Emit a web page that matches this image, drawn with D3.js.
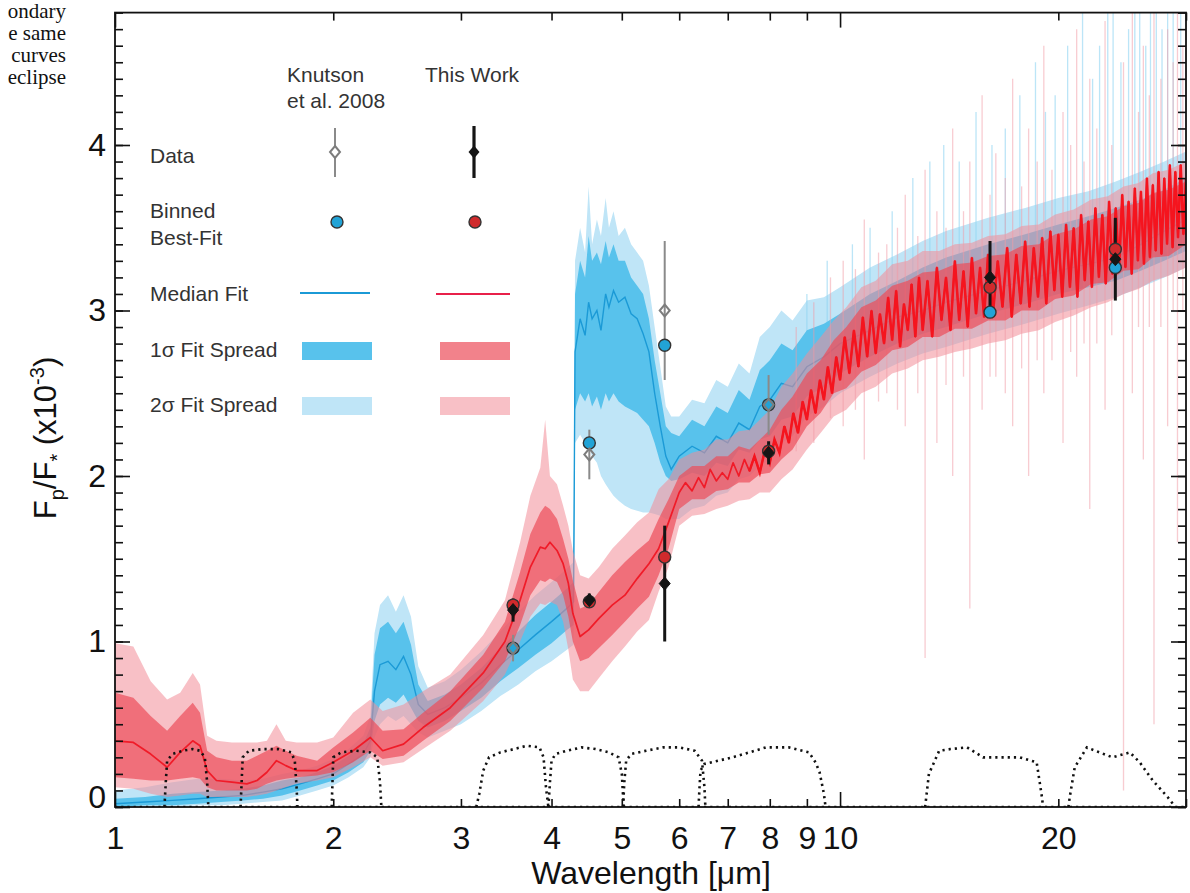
<!DOCTYPE html>
<html><head><meta charset="utf-8">
<script src="https://cdn.jsdelivr.net/npm/d3@7"></script>
<style>body{margin:0;background:#fff}svg{display:block}</style>
</head><body><svg id="c" width="1190" height="893"></svg>
<script>
// ---------------- DATA ----------------
// Knutson et al. 2008 model (blue)
const blueWl  = [1.00,1.10,1.20,1.30,1.40,1.50,1.60,1.70,1.80,1.90,
                 2.00,2.10,2.20,2.25,2.28,2.32,2.38,2.44,2.50,2.56,
                 2.62,2.70,2.85,3.00,3.20,3.40,3.60,3.80,4.00,4.20,
                 4.29,4.31,4.38,4.45,4.50,4.55,4.62,4.68,4.75,4.80,
                 4.87,4.95,5.05,5.15,5.25,5.35,5.45,5.55,5.65,5.75,
                 5.85,6.00,6.25,6.50,6.75,7.00,7.25,7.50,7.75,8.00,
                 8.30,8.60,9.00,9.50,10.0,11.0,12.0,13.0,14.0,16.0,
                 18.0,20.0,22.0,24.0,26.0,28.0,30.0];
const blueMed = [0.02,0.03,0.04,0.05,0.06,0.07,0.09,0.11,0.14,0.17,
                 0.20,0.26,0.32,0.40,0.70,0.86,0.88,0.83,0.91,0.80,
                 0.62,0.56,0.60,0.66,0.75,0.86,0.95,1.04,1.12,1.20,
                 1.24,2.75,2.95,2.85,3.05,2.95,3.00,2.88,3.10,3.02,
                 3.12,3.05,3.08,2.98,2.95,2.86,2.75,2.50,2.30,2.12,
                 2.04,2.12,2.18,2.14,2.24,2.20,2.32,2.28,2.42,2.46,
                 2.56,2.54,2.66,2.72,2.80,2.88,2.96,3.00,3.05,3.12,
                 3.18,3.24,3.28,3.32,3.40,3.48,3.55];
const blue1Lo = [0.00,0.01,0.01,0.02,0.03,0.04,0.05,0.07,0.10,0.13,
                 0.16,0.21,0.27,0.34,0.52,0.62,0.66,0.63,0.68,0.60,
                 0.52,0.48,0.52,0.58,0.66,0.76,0.84,0.92,0.99,1.07,
                 1.10,2.40,2.50,2.45,2.50,2.42,2.48,2.40,2.50,2.45,
                 2.50,2.45,2.42,2.40,2.38,2.34,2.30,2.20,2.08,2.00,
                 1.97,1.98,2.02,2.00,2.08,2.06,2.16,2.14,2.22,2.24,
                 2.34,2.36,2.48,2.54,2.62,2.72,2.80,2.86,2.90,2.98,
                 3.04,3.10,3.14,3.18,3.24,3.30,3.36];
const blue1Hi = [0.05,0.06,0.08,0.09,0.10,0.11,0.13,0.16,0.18,0.21,
                 0.25,0.31,0.38,0.48,0.92,1.08,1.12,1.05,1.12,0.98,
                 0.74,0.64,0.68,0.74,0.84,0.96,1.06,1.16,1.24,1.32,
                 1.36,3.10,3.30,3.20,3.45,3.30,3.35,3.28,3.42,3.32,
                 3.40,3.30,3.30,3.20,3.15,3.10,2.95,2.70,2.50,2.30,
                 2.26,2.24,2.34,2.30,2.42,2.38,2.52,2.46,2.64,2.70,
                 2.80,2.76,2.88,2.92,2.98,3.10,3.18,3.26,3.32,3.40,
                 3.46,3.52,3.57,3.62,3.67,3.73,3.80];
const blue2Lo = [0.00,0.00,0.00,0.01,0.01,0.02,0.03,0.04,0.07,0.10,
                 0.13,0.18,0.24,0.30,0.42,0.50,0.55,0.52,0.55,0.50,
                 0.45,0.42,0.46,0.50,0.58,0.67,0.74,0.82,0.88,0.95,
                 0.98,2.20,2.25,2.20,2.18,2.12,2.08,2.00,1.95,1.92,
                 1.88,1.85,1.82,1.80,1.79,1.78,1.78,1.77,1.76,1.74,
                 1.74,1.74,1.80,1.82,1.88,1.90,1.98,2.00,2.06,2.10,
                 2.20,2.24,2.36,2.42,2.50,2.60,2.68,2.74,2.78,2.86,
                 2.92,2.98,3.03,3.08,3.14,3.20,3.26];
const blue2Hi = [0.10,0.12,0.15,0.17,0.17,0.16,0.17,0.20,0.22,0.25,
                 0.29,0.35,0.43,0.55,1.05,1.22,1.28,1.18,1.28,1.15,
                 0.85,0.72,0.76,0.83,0.94,1.06,1.18,1.28,1.36,1.44,
                 1.48,3.30,3.50,3.35,3.75,3.40,3.55,3.45,3.68,3.50,
                 3.60,3.45,3.50,3.40,3.35,3.30,3.15,2.90,2.66,2.42,
                 2.36,2.36,2.46,2.44,2.58,2.54,2.68,2.62,2.84,2.90,
                 3.00,2.94,3.06,3.08,3.14,3.26,3.34,3.42,3.48,3.56,
                 3.62,3.68,3.72,3.78,3.84,3.90,3.96];

// This work model (red): spread bands
const redBandWl = [1.00,1.06,1.12,1.18,1.23,1.28,1.31,1.34,1.38,1.45,
                   1.52,1.57,1.62,1.67,1.72,1.78,1.90,2.00,2.13,2.25,
                   2.34,2.50,2.66,2.90,3.22,3.45,3.62,3.74,3.86,3.92,
                   3.98,4.07,4.15,4.22,4.28,4.38,4.50,4.65,4.85,5.05,
                   5.25,5.45,5.62,5.80,
                   6.00,6.25,6.50,6.75,7.00,7.25,7.50,7.75,8.00,8.30,
                   8.60,9.00,9.40,9.80,10.2,10.7,11.2,11.8,12.4,13.0,
                   13.7,14.4,15.2,16.0,16.9,17.8,18.8,19.8,21.0,22.2,
                   23.4,24.6,25.8,27.0,28.4,30.0];
const red1Lo = [0.18,0.17,0.16,0.16,0.17,0.18,0.17,0.12,0.10,0.10,
                0.10,0.11,0.14,0.16,0.17,0.18,0.19,0.21,0.27,0.34,
                0.29,0.31,0.40,0.52,0.72,0.88,1.10,1.28,1.37,1.36,
                1.38,1.36,1.28,1.15,1.00,0.88,0.90,0.96,1.04,1.12,
                1.20,1.27,1.40,1.56,
                1.80,1.86,1.86,1.91,1.92,1.96,1.96,2.01,2.02,2.10,
                2.16,2.30,2.38,2.50,2.53,2.63,2.67,2.76,2.78,2.84,
                2.84,2.89,2.89,2.94,2.94,3.00,3.00,3.07,3.09,3.16,
                3.17,3.24,3.25,3.32,3.33,3.40];
const red1Hi = [0.69,0.66,0.55,0.46,0.55,0.63,0.57,0.34,0.30,0.28,
                0.28,0.31,0.34,0.37,0.34,0.31,0.28,0.36,0.45,0.54,
                0.46,0.47,0.57,0.70,0.92,1.12,1.42,1.65,1.78,1.82,
                1.80,1.74,1.62,1.50,1.37,1.20,1.22,1.30,1.40,1.48,
                1.55,1.61,1.74,1.86,
                2.00,2.06,2.06,2.12,2.12,2.18,2.16,2.22,2.28,2.40,
                2.48,2.62,2.70,2.82,2.90,3.02,3.06,3.15,3.18,3.23,
                3.24,3.28,3.29,3.33,3.34,3.39,3.40,3.46,3.49,3.55,
                3.57,3.63,3.65,3.71,3.73,3.78];
const red2Lo = [0.12,0.11,0.08,0.06,0.07,0.08,0.08,0.06,0.06,0.06,
                0.06,0.07,0.08,0.10,0.12,0.14,0.16,0.18,0.24,0.30,
                0.25,0.27,0.35,0.46,0.64,0.80,1.00,1.15,1.23,1.22,
                1.24,1.22,1.12,0.95,0.77,0.70,0.70,0.78,0.88,0.97,
                1.06,1.13,1.30,1.45,
                1.70,1.76,1.77,1.80,1.82,1.85,1.86,1.90,1.90,1.98,
                2.04,2.16,2.26,2.36,2.40,2.50,2.54,2.62,2.65,2.70,
                2.72,2.75,2.77,2.80,2.82,2.86,2.88,2.93,2.97,3.02,
                3.05,3.10,3.13,3.18,3.21,3.26];
const red2Hi = [0.99,0.97,0.76,0.65,0.69,0.81,0.74,0.43,0.40,0.39,
                0.39,0.39,0.40,0.50,0.40,0.39,0.39,0.42,0.57,0.65,
                0.58,0.62,0.70,0.80,1.04,1.25,1.60,1.88,2.05,2.34,
                2.00,1.95,1.82,1.70,1.55,1.40,1.38,1.45,1.56,1.64,
                1.72,1.78,1.92,1.98,
                2.10,2.14,2.16,2.22,2.22,2.27,2.28,2.34,2.40,2.54,
                2.62,2.74,2.84,2.94,3.02,3.14,3.18,3.28,3.30,3.36,
                3.36,3.40,3.41,3.45,3.46,3.51,3.52,3.58,3.61,3.67,
                3.69,3.75,3.77,3.83,3.85,3.90];

// red median fit
const redMedWl = [1.00,1.06,1.12,1.18,1.23,1.28,1.31,1.34,1.38,1.45,
                  1.52,1.57,1.62,1.67,1.72,1.78,1.90,2.00,2.13,2.25,
                  2.34,2.50,2.66,2.90,3.22,3.45,3.62,3.74,3.86,3.92,
                  3.98,4.07,4.15,4.22,4.28,4.38,4.50,4.65,4.85,5.05,
                  5.25,5.45,5.62,5.80,
                  6.00,6.12,6.25,6.38,6.50,6.62,6.75,6.88,7.00,7.12,
                  7.25,7.38,7.50,7.62,7.75,7.88,8.00,8.12,8.25,8.38,
                  8.50,8.62,8.75,8.88,9.00,9.12,9.25,9.38,9.50,9.62,
                  9.75,9.88,10.0,10.15,10.3,10.45,10.6,10.75,10.9,11.05,
                  11.2,11.35,11.5,11.65,11.8,11.95,12.1,12.25,12.4,12.55,
                  12.7,12.85,13.0,13.2,13.4,13.6,13.8,14.0,14.2,14.4,
                  14.6,14.8,15.0,15.2,15.4,15.6,15.8,16.0,16.25,16.5,
                  16.75,17.0,17.25,17.5,17.75,18.0,18.25,18.5,18.75,19.0,
                  19.25,19.5,19.75,20.0,20.25,20.5,20.75,21.0,21.25,21.5,
                  21.75,22.0,22.25,22.5,22.75,23.0,23.25,23.5,23.75,24.0,
                  24.25,24.5,24.75,25.0,25.25,25.5,25.75,26.0,26.25,26.5,
                  26.75,27.0,27.25,27.5,27.75,28.0,28.25,28.5,28.75,29.0,
                  29.25,29.5,29.75,30.0];
const redMed = [0.40,0.39,0.32,0.24,0.33,0.40,0.37,0.22,0.16,0.15,
                0.14,0.16,0.21,0.28,0.25,0.22,0.22,0.27,0.34,0.42,
                0.34,0.38,0.48,0.60,0.81,1.00,1.25,1.45,1.57,1.56,
                1.60,1.55,1.47,1.35,1.17,1.03,1.07,1.14,1.22,1.28,
                1.38,1.47,1.56,1.72,
                1.90,1.96,1.91,1.99,1.93,2.04,1.97,2.02,1.98,2.08,
                2.00,2.10,2.03,2.12,2.02,2.16,2.08,2.22,2.14,2.30,
                2.20,2.38,2.26,2.45,2.34,2.52,2.38,2.58,2.46,2.66,
                2.50,2.72,2.58,2.84,2.62,2.88,2.66,2.96,2.72,3.00,
                2.74,2.98,2.80,3.08,2.82,3.12,2.78,3.04,2.88,3.16,
                2.84,3.20,2.88,3.18,2.84,3.26,2.94,3.20,2.88,3.30,
                2.94,3.24,2.90,3.32,2.98,3.26,2.96,3.34,2.98,3.30,
                3.02,3.38,2.96,3.34,3.04,3.42,3.02,3.38,3.08,3.44,
                3.04,3.48,3.12,3.46,3.08,3.52,3.14,3.50,3.08,3.58,
                3.18,3.54,3.14,3.62,3.20,3.58,3.16,3.66,3.22,3.62,
                3.24,3.70,3.26,3.66,3.22,3.74,3.30,3.72,3.28,3.80,
                3.32,3.76,3.36,3.84,3.34,3.80,3.40,3.88,3.38,3.84,
                3.44,3.88,3.46,3.80];

// thin spread spikes at long wavelengths
const redSpikeWl = [8.7,9.2,9.7,10.1,10.5,10.8,11.3,11.6,12.0,12.3,12.8,13.1,13.6,14.0,14.3,14.8,15.1,15.7,16.1,16.4,16.9,17.3,17.8,18.2,18.7,19.1,19.6,20.3,20.8,21.2,21.7,22.1,22.6,23.2,23.7,24.6,25.3,25.8,26.2,26.7,27.1,27.7,28.3,28.8,29.2,29.7];
const redSpikeLo = [2.15,2.2,2.35,2.3,2.4,2.1,2.45,2.5,2.4,2.3,2.5,0.9,2.2,2.55,2.0,2.6,1.2,2.4,2.6,2.6,2.5,2.3,2.65,2.0,2.7,2.5,2.7,2.2,2.75,2.6,2.8,1.8,2.8,2.4,2.85,0.1,2.5,2.9,2.1,2.9,0.5,2.9,2.3,3.0,1.6,3.0];
const redSpikeHi = [2.9,3.05,3.2,3.3,3.25,3.55,3.35,3.4,3.5,3.7,3.45,3.85,3.6,3.5,4.1,3.6,3.9,4.3,3.7,3.95,3.8,4.4,3.75,4.1,3.9,4.6,3.85,4.2,4.0,4.7,3.9,4.4,4.1,4.75,4.0,4.5,4.8,4.2,4.6,4.3,4.8,4.4,4.7,4.5,4.8,4.6];
const blueSpikeWl = [9.0,9.6,10.4,11.0,11.8,12.6,13.3,13.9,14.6,15.4,16.2,16.9,17.7,18.6,19.2,19.8,20.6,21.6,22.3,22.8,23.4,23.8,24.4,25.0,25.5,25.9,26.4,26.8,27.3,27.8,28.3,28.8,29.5];
const blueSpikeLo = [2.7,2.7,2.8,2.9,2.95,3.0,3.05,3.1,3.1,3.2,3.2,3.2,3.25,3.3,3.3,3.3,3.35,3.4,3.4,3.4,3.4,3.4,3.45,3.5,3.5,3.5,3.5,3.5,3.55,3.5,3.55,3.6,3.6];
const blueSpikeHi = [3.1,3.3,3.4,3.5,3.6,3.8,3.9,4.0,3.9,4.2,4.0,4.1,4.3,4.5,4.2,4.3,4.6,4.8,4.4,4.6,4.8,4.8,4.5,4.7,4.8,4.8,4.6,4.8,4.8,4.7,4.8,4.8,4.8];

// photometry
const knutWl  = [3.54, 4.51, 5.73, 7.97];
const knutVal = [0.96, 2.13, 3.00, 2.43];
const knutErr = [0.08, 0.15, 0.42, 0.18];
const thisWl  = [3.54, 4.51, 5.73, 7.97, 16.1, 23.97];
const thisVal = [1.19, 1.25, 1.35, 2.14, 3.20, 3.31];
const thisErr = [0.07, 0.04, 0.35, 0.07, 0.22, 0.25];
const binWl   = [3.54, 4.51, 5.73, 7.97, 16.1, 23.97];
const blueBin = [0.96, 2.20, 2.79, 2.43, 2.99, 3.26];
const redBin  = [1.22, 1.24, 1.51, 2.15, 3.14, 3.37];

// filter transmission curves [wavelength, value]
const filtJ = [[1.17,0],[1.175,0.15],[1.18,0.28],[1.2,0.32],[1.24,0.34],[1.28,0.35],[1.31,0.34],[1.33,0.30],[1.34,0.15],[1.345,0]];
const filtH = [[1.49,0],[1.495,0.15],[1.5,0.30],[1.53,0.34],[1.6,0.35],[1.68,0.35],[1.75,0.33],[1.77,0.28],[1.78,0.12],[1.785,0]];
const filtK = [[1.99,0],[1.995,0.15],[2.0,0.30],[2.05,0.33],[2.15,0.34],[2.25,0.33],[2.3,0.30],[2.32,0.15],[2.33,0]];
const filtI1 = [[3.15,0],[3.18,0.08],[3.22,0.22],[3.28,0.30],[3.4,0.33],[3.55,0.35],[3.7,0.37],[3.85,0.36],[3.9,0.30],[3.93,0.12],[3.96,0]];
const filtI2 = [[3.96,0],[3.98,0.15],[4.0,0.28],[4.05,0.32],[4.2,0.34],[4.4,0.36],[4.6,0.35],[4.8,0.33],[4.95,0.30],[5.0,0.20],[5.03,0]];
const filtI3 = [[5.02,0],[5.04,0.15],[5.07,0.28],[5.15,0.32],[5.4,0.34],[5.7,0.36],[6.0,0.36],[6.3,0.34],[6.45,0.28],[6.5,0.12],[6.52,0]];
const filtI4 = [[6.38,0],[6.4,0.12],[6.42,0.22],[6.5,0.26],[6.8,0.28],[7.1,0.30],[7.5,0.33],[7.9,0.36],[8.5,0.36],[9.06,0.33],[9.25,0.27],[9.37,0.21],[9.5,0.08],[9.55,0]];
const filtIRS = [[13.1,0],[13.15,0.06],[13.26,0.20],[13.7,0.34],[14.2,0.35],[14.97,0.36],[15.75,0.30],[16.6,0.30],[17.7,0.30],[18.67,0.27],[18.85,0.15],[19.0,0.05],[19.05,0]];
const filtMIPS = [[20.65,0],[20.74,0.06],[21.07,0.24],[21.9,0.36],[22.8,0.33],[23.75,0.30],[25.1,0.33],[25.9,0.27],[27.0,0.16],[28.3,0.06],[29.0,0]];
const filtBase = [[1,0],[30,0]];

// ticks
const xTickLabels = [1,2,3,4,5,6,7,8,9,10,20];
const xMajor = [1,10];
const xMinor = [2,3,4,5,6,7,8,9,20,30];
const yTickLabels = [0,1,2,3,4];

// ---------------- DRAW ----------------
const svg = d3.select('#c');
const L=115, R=1186, B=807;
const x = d3.scaleLog().domain([1,30]).range([L,R]);
const y = d3.scaleLinear().domain([0,4.8]).range([B,B-4.8*165.5]);
const T = y(4.8);
const FONT = '"Liberation Sans", Arial, Helvetica, sans-serif';

svg.append('rect').attr('width',1190).attr('height',893).attr('fill','#fff');
svg.append('defs').append('clipPath').attr('id','clip').append('rect')
   .attr('x',L).attr('y',T).attr('width',R-L).attr('height',B-T);
const g = svg.append('g').attr('clip-path','url(#clip)');

const band = (wl,lo,hi) => d3.area().x(i=>x(wl[i])).y0(i=>y(lo[i])).y1(i=>y(hi[i]))(d3.range(wl.length));
const lineIdx = (wl,v,idx) => d3.line().x(i=>x(wl[i])).y(i=>y(v[i]))(idx);
const line = (wl,v) => lineIdx(wl,v,d3.range(wl.length));
const pline = d3.line().x(d=>x(d[0])).y(d=>y(d[1]));

const C = {b2:'#bfe5f7', b1:'#58c2ec', bm:'#1b9ad6', r2:'#f38d98', r1:'#ec4d5a', rm:'#f01b28'};

// blue
g.append('path').attr('d',band(blueWl,blue2Lo,blue2Hi)).attr('fill',C.b2);
g.selectAll('.bs').data(d3.range(blueSpikeWl.length)).join('line')
  .attr('x1',i=>x(blueSpikeWl[i])).attr('x2',i=>x(blueSpikeWl[i]))
  .attr('y1',i=>y(blueSpikeLo[i])).attr('y2',i=>y(blueSpikeHi[i]))
  .attr('stroke','#8fd4f2').attr('stroke-width',1.3).attr('opacity',0.6);
g.append('path').attr('d',band(blueWl,blue1Lo,blue1Hi)).attr('fill',C.b1);
g.append('path').attr('d',line(blueWl,blueMed)).attr('fill','none').attr('stroke',C.bm).attr('stroke-width',1.4);

// red
g.append('path').attr('d',band(redBandWl,red2Lo,red2Hi)).attr('fill',C.r2).attr('opacity',0.55);
g.selectAll('.rs').data(d3.range(redSpikeWl.length)).join('line')
  .attr('x1',i=>x(redSpikeWl[i])).attr('x2',i=>x(redSpikeWl[i]))
  .attr('y1',i=>y(redSpikeLo[i])).attr('y2',i=>y(redSpikeHi[i]))
  .attr('stroke','#f29aa5').attr('stroke-width',1.3).attr('opacity',0.5);
g.append('path').attr('d',band(redBandWl,red1Lo,red1Hi)).attr('fill',C.r1).attr('opacity',0.7);
g.append('path').attr('d',line(redMedWl,redMed)).attr('fill','none').attr('stroke',C.rm).attr('stroke-width',1.7).attr('stroke-linejoin','round');
const longIdx = d3.range(redMedWl.length).filter(i=>redMedWl[i]>=7.5);
g.append('path').attr('d',lineIdx(redMedWl,redMed,longIdx)).attr('fill','none').attr('stroke','#f5141e').attr('stroke-width',2.5).attr('stroke-linejoin','miter');

// filters
[filtBase,filtJ,filtH,filtK,filtI1,filtI2,filtI3,filtI4,filtIRS,filtMIPS].forEach(f=>{
  g.append('path').attr('d',pline(f)).attr('fill','none').attr('stroke','#111')
   .attr('stroke-width',2.6).attr('stroke-dasharray','2.2,4');
});

// axes
const axisStyle = sel => { sel.select('.domain').remove(); sel.selectAll('line').attr('stroke','#111').attr('stroke-width',1.6); sel.selectAll('text').style('font-family',FONT).style('font-size','32px').attr('fill','#111'); };
const yMinor = d3.range(0,4.81,0.1);
svg.append('g').attr('transform',`translate(${L},0)`).call(d3.axisLeft(y).tickValues(yMinor).tickSize(-8).tickFormat('')).call(axisStyle);
const yl = svg.append('g').attr('transform',`translate(${L},0)`).call(d3.axisLeft(y).tickValues(yTickLabels).tickSize(-15).tickPadding(9).tickFormat(d3.format('d'))).call(axisStyle);
yl.selectAll('.tick').filter(d=>d===0).select('text').attr('dy','0.02em');
svg.append('g').attr('transform',`translate(${R},0)`).call(d3.axisRight(y).tickValues(yMinor).tickSize(-8).tickFormat('')).call(axisStyle);
svg.append('g').attr('transform',`translate(${R},0)`).call(d3.axisRight(y).tickValues(yTickLabels).tickSize(-15).tickFormat('')).call(axisStyle);

svg.append('g').attr('transform',`translate(0,${B})`).call(d3.axisBottom(x).tickValues(xMinor).tickSize(-8).tickFormat('')).call(axisStyle);
svg.append('g').attr('transform',`translate(0,${B})`).call(d3.axisBottom(x).tickValues(xMajor).tickSize(-15).tickFormat('')).call(axisStyle);
svg.append('g').attr('transform',`translate(0,${B})`).call(d3.axisBottom(x).tickValues(xTickLabels).tickSize(0).tickPadding(19).tickFormat(d3.format('d'))).call(axisStyle);
svg.append('g').attr('transform',`translate(0,${T})`).call(d3.axisTop(x).tickValues(xMinor).tickSize(-8).tickFormat('')).call(axisStyle);
svg.append('g').attr('transform',`translate(0,${T})`).call(d3.axisTop(x).tickValues(xMajor).tickSize(-15).tickFormat('')).call(axisStyle);

svg.append('rect').attr('x',L).attr('y',T).attr('width',R-L).attr('height',B-T)
   .attr('fill','none').attr('stroke','#111').attr('stroke-width',1.8);

// photometry marks
const diamond = (cx,cy,w,h) => { const p=d3.path(); p.moveTo(cx,cy-h); p.lineTo(cx+w,cy); p.lineTo(cx,cy+h); p.lineTo(cx-w,cy); p.closePath(); return p.toString(); };
const pts = svg.append('g');
knutWl.forEach((w,i)=>{
  pts.append('line').attr('x1',x(w)).attr('x2',x(w)).attr('y1',y(knutVal[i]-knutErr[i])).attr('y2',y(knutVal[i]+knutErr[i]))
     .attr('stroke','#8a8a8a').attr('stroke-width',2);
});
thisWl.forEach((w,i)=>{
  pts.append('line').attr('x1',x(w)).attr('x2',x(w)).attr('y1',y(thisVal[i]-thisErr[i])).attr('y2',y(thisVal[i]+thisErr[i]))
     .attr('stroke','#151515').attr('stroke-width',3);
});
binWl.forEach((w,i)=>{
  pts.append('circle').attr('cx',x(w)).attr('cy',y(blueBin[i])).attr('r',6).attr('fill','#22a3d6').attr('stroke','#333').attr('stroke-width',1.4);
  pts.append('circle').attr('cx',x(w)).attr('cy',y(redBin[i])).attr('r',6).attr('fill','#d02a2c').attr('stroke','#333').attr('stroke-width',1.4);
});
knutWl.forEach((w,i)=>{
  pts.append('path').attr('d',diamond(x(w),y(knutVal[i]),5,6)).attr('fill','none').attr('stroke','#7d7d7d').attr('stroke-width',2);
});
thisWl.forEach((w,i)=>{
  pts.append('path').attr('d',diamond(x(w),y(thisVal[i]),5.5,6.5)).attr('fill','#151515').attr('stroke','#151515').attr('stroke-width',1);
});

// legend
const lg = svg.append('g').style('font-family',FONT).style('font-size','21px').attr('fill','#333');
lg.append('text').attr('x',287).attr('y',82).text('Knutson');
lg.append('text').attr('x',287).attr('y',108).text('et al. 2008');
lg.append('text').attr('x',425).attr('y',82).text('This Work');
lg.append('text').attr('x',150).attr('y',163).text('Data');
lg.append('text').attr('x',150).attr('y',218).text('Binned');
lg.append('text').attr('x',150).attr('y',245).text('Best-Fit');
lg.append('text').attr('x',150).attr('y',301).text('Median Fit');
lg.append('text').attr('x',150).attr('y',357).text('1σ Fit Spread');
lg.append('text').attr('x',150).attr('y',412).text('2σ Fit Spread');
lg.append('line').attr('x1',335).attr('x2',335).attr('y1',128).attr('y2',177).attr('stroke','#8a8a8a').attr('stroke-width',2);
lg.append('path').attr('d',diamond(335,152,5,6)).attr('fill','#fff').attr('stroke','#7d7d7d').attr('stroke-width',2);
lg.append('line').attr('x1',474).attr('x2',474).attr('y1',126).attr('y2',178).attr('stroke','#151515').attr('stroke-width',3.2);
lg.append('path').attr('d',diamond(474,152,5.5,6.5)).attr('fill','#151515');
lg.append('circle').attr('cx',337).attr('cy',222).attr('r',6).attr('fill','#22a3d6').attr('stroke','#333').attr('stroke-width',1.4);
lg.append('circle').attr('cx',475).attr('cy',222).attr('r',6).attr('fill','#d02a2c').attr('stroke','#333').attr('stroke-width',1.4);
lg.append('line').attr('x1',300).attr('x2',370).attr('y1',293).attr('y2',293).attr('stroke',C.bm).attr('stroke-width',2);
lg.append('line').attr('x1',436).attr('x2',510).attr('y1',294).attr('y2',294).attr('stroke','#e8204a').attr('stroke-width',2);
lg.append('rect').attr('x',302).attr('y',342).attr('width',70).attr('height',18).attr('fill',C.b1);
lg.append('rect').attr('x',440).attr('y',342).attr('width',70).attr('height',18).attr('fill',C.r1).attr('opacity',0.7);
lg.append('rect').attr('x',302).attr('y',397).attr('width',70).attr('height',18).attr('fill',C.b2);
lg.append('rect').attr('x',440).attr('y',397).attr('width',70).attr('height',18).attr('fill',C.r2).attr('opacity',0.55);

// axis titles
svg.append('text').attr('x',651).attr('y',884).attr('text-anchor','middle')
   .style('font-family',FONT).style('font-size','32px').attr('fill','#111').text('Wavelength [μm]');
const yt = svg.append('text').attr('transform','translate(56,438) rotate(-90)').attr('text-anchor','middle')
   .style('font-family',FONT).style('font-size','31px').attr('fill','#111');
yt.append('tspan').text('F');
yt.append('tspan').attr('dy',8).style('font-size','20px').text('p');
yt.append('tspan').attr('dy',-8).text('/F');
yt.append('tspan').attr('dy',8).style('font-size','20px').text('*');
yt.append('tspan').attr('dy',-8).text(' (x10');
yt.append('tspan').attr('dy',-12).style('font-size','20px').text('-3');
yt.append('tspan').attr('dy',12).text(')');

// clipped paragraph text at top-left
const para = ['ondary','e same','curves','eclipse'];
svg.append('g').style('font-family','"Liberation Serif", "Times New Roman", serif').style('font-size','21px').attr('fill','#111')
  .selectAll('text').data(para).join('text').attr('x',66).attr('y',(d,i)=>18+i*22).attr('text-anchor','end').text(d=>d);
</script>
</body></html>
